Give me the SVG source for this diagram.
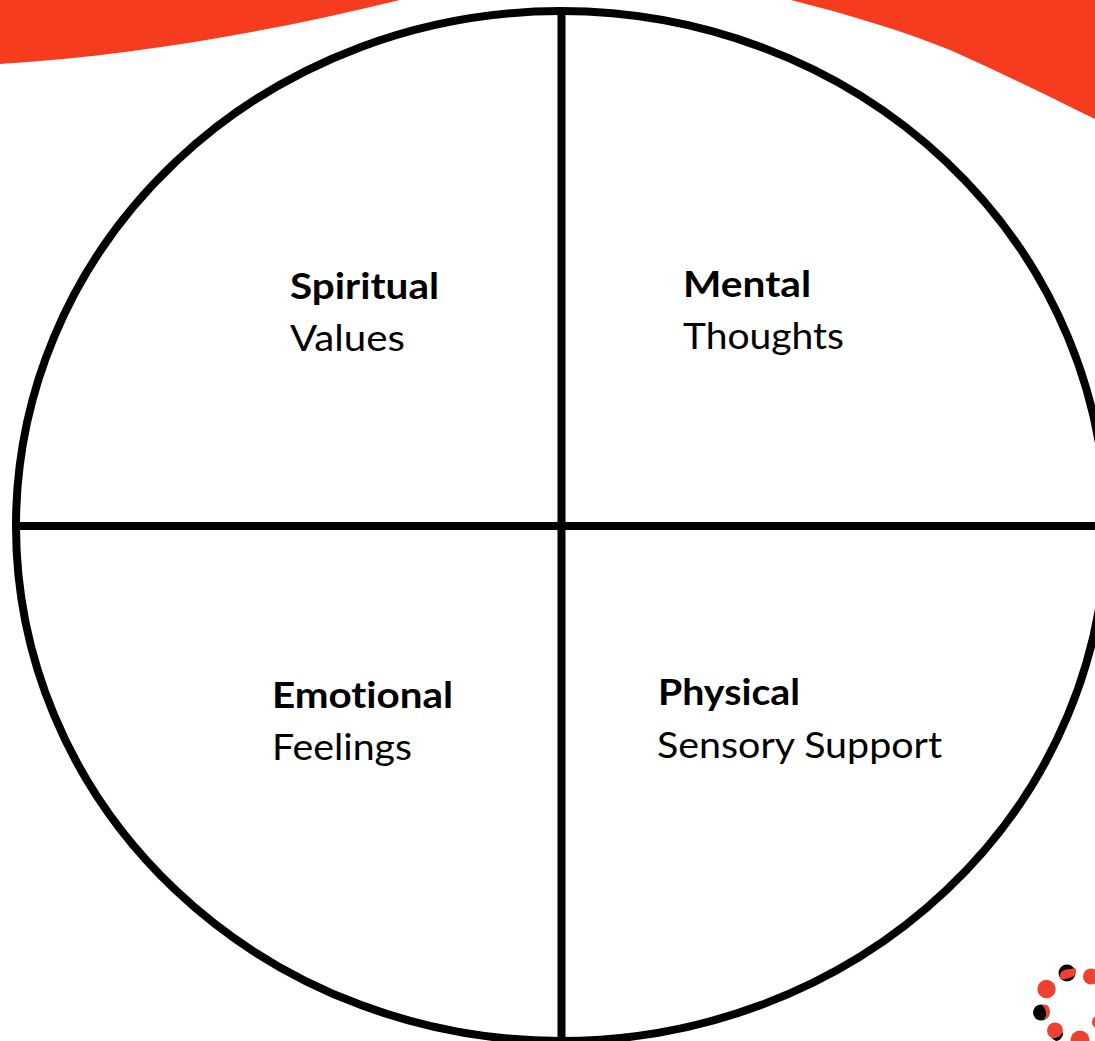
<svg xmlns="http://www.w3.org/2000/svg" width="1095" height="1041" viewBox="0 0 1095 1041">
<style>
.b{font-family:"Lato","Open Sans",sans-serif;font-size:36px;font-weight:700;fill:#000;font-variant-ligatures:none}
.r{font-family:"Lato","Open Sans",sans-serif;font-size:36px;fill:#000;font-variant-ligatures:none}
.w{fill:#F63C1F}
.d{fill:#EF4130}
.k{fill:#000}
.l{fill:none;stroke:#000;stroke-width:8}
</style>
<rect width="1095" height="1041" fill="#fff"/>
<g id="banner">
<path class="w" d="M0 0H400C270 32 130 56 0 64Z"/>
<path class="w" d="M791 0H1095V119C1050 97 1000 72 950 50C900 30 850 15 791 0Z"/>
</g>
<g id="connectors">
<ellipse class="l" cx="561" cy="526" rx="545" ry="515"/>
<path class="l" d="M561.500 9V1041M16 526H1095"/>
</g>
<g id="spiritual"><text class="b" x="290" y="299" textLength="149" lengthAdjust="spacingAndGlyphs">Spiritual</text><text class="r" x="290" y="351" textLength="115" lengthAdjust="spacingAndGlyphs">Values</text></g>
<g id="mental"><text class="b" x="683" y="297" textLength="128" lengthAdjust="spacingAndGlyphs">Mental</text><text class="r" x="683" y="349" textLength="161" lengthAdjust="spacingAndGlyphs">Thoughts</text></g>
<g id="emotional"><text class="b" x="272" y="708" textLength="181" lengthAdjust="spacingAndGlyphs">Emotional</text><text class="r" x="272" y="760" textLength="140" lengthAdjust="spacingAndGlyphs">Feelings</text></g>
<g id="physical"><text class="b" x="658" y="705" textLength="142" lengthAdjust="spacingAndGlyphs">Physical</text><text class="r" x="657" y="758" textLength="285" lengthAdjust="spacingAndGlyphs">Sensory Support</text></g>
<g id="logo">
<circle class="k" cx="1067" cy="973" r="8.500"/>
<path class="d" d="M1060 979C1058 972 1064 969 1070 969L1075 968C1077 970 1076 976 1072 977C1066 979 1062 980 1060 979Z"/>
<circle class="d" cx="1091" cy="976.500" r="8"/>
<circle class="d" cx="1046.500" cy="989" r="9.200"/>
<circle class="k" cx="1041" cy="1012.500" r="8"/>
<path class="d" d="M1042 1005C1047 1003 1050 1007 1050 1012C1050 1017 1046 1020 1044 1019C1048 1015 1046 1009 1042 1005Z"/>
<circle class="d" cx="1055" cy="1030.500" r="8"/>
<path class="k" d="M1051 1038C1056 1039 1061 1036 1063 1032C1064 1036 1060 1041 1056 1041Z"/>
<circle class="d" cx="1080" cy="1040" r="9.500"/>
<circle class="d" cx="1099" cy="1022" r="7"/>
</g>
</svg>
